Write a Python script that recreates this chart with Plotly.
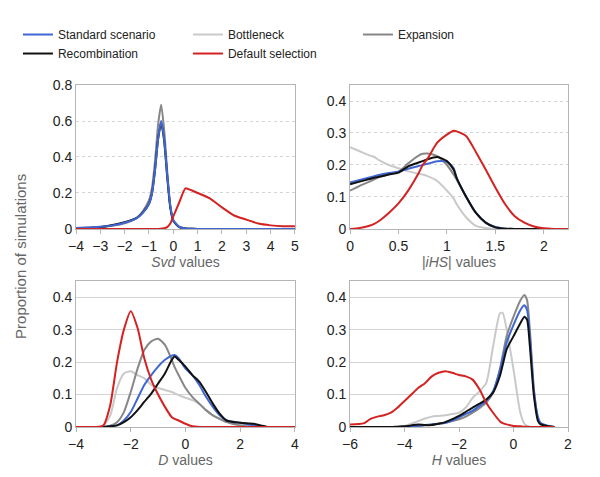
import plotly.graph_objects as go
from plotly.subplots import make_subplots

series_names = ["Standard scenario", "Bottleneck", "Expansion", "Recombination", "Default selection"]
series_colors = ["#3f66d2", "#c9c9c9", "#878787", "#111111", "#d42222"]

# Svd panel
svd_x = [-4, -3.5, -3, -2.5, -2, -1.5, -1.25, -1, -0.875, -0.75, -0.625, -0.5, -0.375, -0.25, -0.125, 0,
         0.25, 0.5, 0.75, 1, 1.5, 2, 2.5, 3, 3.5, 4, 4.5, 5]
svd_standard = [0.005, 0.008, 0.012, 0.02, 0.035, 0.06, 0.09, 0.14, 0.2, 0.33, 0.5, 0.6, 0.5, 0.3, 0.13, 0.05,
                0.012, 0.003, 0.001, 0, 0, 0, 0, 0, 0, 0, 0, 0]
svd_bottleneck = [0.005, 0.008, 0.012, 0.02, 0.035, 0.062, 0.095, 0.15, 0.21, 0.35, 0.52, 0.6, 0.49, 0.29, 0.12, 0.045,
                  0.01, 0.003, 0.001, 0, 0, 0, 0, 0, 0, 0, 0, 0]
svd_expansion = [0.004, 0.007, 0.01, 0.018, 0.032, 0.062, 0.1, 0.16, 0.23, 0.38, 0.58, 0.69, 0.55, 0.32, 0.13, 0.045,
                 0.01, 0.003, 0.001, 0, 0, 0, 0, 0, 0, 0, 0, 0]
svd_recomb = [0.004, 0.006, 0.01, 0.022, 0.038, 0.062, 0.092, 0.14, 0.2, 0.33, 0.5, 0.59, 0.49, 0.29, 0.12, 0.045,
              0.01, 0.003, 0.001, 0, 0, 0, 0, 0, 0, 0, 0, 0]
svd_default = [0, 0, 0, 0, 0, 0, 0, 0, 0, 0, 0, 0.002, 0.004, 0.01, 0.03, 0.07,
               0.15, 0.226, 0.215, 0.2, 0.17, 0.12, 0.075, 0.052, 0.03, 0.02, 0.015, 0.015]

# |iHS| panel
ihs_x = [0, 0.1, 0.2, 0.25, 0.3, 0.4, 0.5, 0.6, 0.7, 0.75, 0.8, 0.9, 1.0, 1.07, 1.1, 1.2, 1.3, 1.4, 1.5,
         1.6, 1.7, 1.8, 1.9, 2.0, 2.1, 2.25]
ihs_standard = [0.145, 0.153, 0.161, 0.165, 0.169, 0.175, 0.18, 0.188, 0.196, 0.2, 0.204, 0.212, 0.21, 0.19, 0.16,
                0.1, 0.05, 0.02, 0.006, 0.001, 0, 0, 0, 0, 0, 0]
ihs_bottleneck = [0.256, 0.243, 0.23, 0.225, 0.215, 0.2, 0.19, 0.18, 0.173, 0.17, 0.165, 0.15, 0.12, 0.095, 0.078,
                  0.036, 0.01, 0.003, 0, 0, 0, 0, 0, 0, 0, 0]
ihs_expansion = [0.12, 0.135, 0.148, 0.155, 0.162, 0.172, 0.178, 0.205, 0.228, 0.235, 0.236, 0.228, 0.2, 0.17,
                 0.155, 0.1, 0.05, 0.02, 0.005, 0.001, 0, 0, 0, 0, 0, 0]
ihs_recomb = [0.14, 0.148, 0.156, 0.16, 0.163, 0.17, 0.176, 0.196, 0.207, 0.212, 0.218, 0.225, 0.212, 0.185,
              0.16, 0.1, 0.05, 0.02, 0.005, 0.001, 0, 0, 0, 0, 0, 0]
ihs_default = [0, 0.003, 0.01, 0.016, 0.025, 0.05, 0.08, 0.12, 0.17, 0.2, 0.22, 0.27, 0.295, 0.307, 0.305, 0.29,
               0.24, 0.186, 0.13, 0.078, 0.04, 0.02, 0.008, 0.002, 0, 0]

# D panel
d_x = [-4, -3.5, -3.25, -3, -2.75, -2.5, -2.25, -2, -1.75, -1.5, -1.25, -1, -0.75, -0.5, -0.4, -0.25, 0,
       0.25, 0.5, 0.75, 1, 1.25, 1.5, 2, 2.5, 2.75, 3, 3.5, 4]
d_standard = [0, 0, 0, 0, 0.002, 0.005, 0.02, 0.046, 0.088, 0.13, 0.16, 0.186, 0.207, 0.22, 0.222, 0.212, 0.18,
              0.16, 0.13, 0.093, 0.062, 0.036, 0.02, 0.013, 0.005, 0.003, 0, 0, 0]
d_bottleneck = [0, 0, 0, 0.005, 0.035, 0.12, 0.165, 0.172, 0.16, 0.15, 0.13, 0.12, 0.114, 0.108, 0.104, 0.098,
                0.09, 0.083, 0.072, 0.052, 0.036, 0.026, 0.018, 0.01, 0.005, 0.003, 0, 0, 0]
d_expansion = [0, 0, 0, 0, 0.004, 0.015, 0.046, 0.108, 0.18, 0.238, 0.264, 0.272, 0.253, 0.207, 0.185, 0.16,
               0.12, 0.093, 0.072, 0.052, 0.036, 0.025, 0.015, 0.005, 0, 0, 0, 0, 0]
d_recomb = [0, 0, 0, 0, 0.002, 0.005, 0.015, 0.03, 0.052, 0.078, 0.103, 0.134, 0.165, 0.207, 0.217, 0.207, 0.186,
            0.16, 0.14, 0.108, 0.072, 0.041, 0.02, 0.013, 0.01, 0.005, 0, 0, 0]
d_default = [0, 0, 0, 0.005, 0.067, 0.2, 0.3, 0.357, 0.305, 0.21, 0.145, 0.1, 0.062, 0.03, 0.025, 0.02, 0.01,
             0.002, 0, 0, 0, 0, 0, 0, 0, 0, 0, 0, 0]

# H panel
h_x = [-6, -5.5, -5.25, -5, -4.75, -4.5, -4.25, -4, -3.75, -3.5, -3.25, -3, -2.75, -2.5, -2.25, -2, -1.75,
       -1.5, -1.25, -1, -0.75, -0.5, -0.4, -0.25, 0, 0.25, 0.4, 0.5, 0.6, 0.75, 0.9, 1.0, 1.25, 1.5]
h_standard = [0, 0, 0, 0, 0, 0, 0, 0.001, 0.002, 0.004, 0.006, 0.008, 0.01, 0.013, 0.02, 0.03, 0.04,
              0.05, 0.065, 0.08, 0.11, 0.175, 0.21, 0.26, 0.315, 0.36, 0.375, 0.36, 0.28, 0.11, 0.03, 0.012,
              0.004, 0]
h_bottleneck = [0, 0, 0, 0, 0, 0, 0.001, 0.003, 0.01, 0.018, 0.026, 0.032, 0.034, 0.036, 0.04, 0.044, 0.06,
                0.09, 0.11, 0.136, 0.248, 0.35, 0.352, 0.3, 0.177, 0.044, 0.01, 0.003, 0, 0, 0, 0, 0, 0]
h_expansion = [0, 0, 0, 0, 0, 0, 0, 0, 0.001, 0.003, 0.005, 0.008, 0.01, 0.013, 0.018, 0.024, 0.032,
               0.044, 0.058, 0.075, 0.106, 0.177, 0.22, 0.28, 0.34, 0.39, 0.407, 0.39, 0.3, 0.115, 0.024, 0.008,
               0.003, 0]
h_recomb = [0, 0, 0, 0, 0, 0, 0.001, 0.002, 0.005, 0.008, 0.006, 0.006, 0.01, 0.015, 0.024, 0.034, 0.047,
            0.06, 0.072, 0.085, 0.106, 0.157, 0.19, 0.24, 0.28, 0.32, 0.34, 0.33, 0.25, 0.095, 0.018, 0.008,
            0.003, 0]
h_default = [0.008, 0.011, 0.025, 0.032, 0.036, 0.044, 0.06, 0.08, 0.1, 0.12, 0.135, 0.156, 0.167, 0.172,
             0.167, 0.16, 0.156, 0.146, 0.116, 0.075, 0.044, 0.018, 0.012, 0.008, 0.003, 0.002, 0.001, 0.001,
             0, 0, 0, 0, 0, 0]

panels = [
    (svd_x, [svd_standard, svd_bottleneck, svd_expansion, svd_recomb, svd_default], [1, 2, 3, 0, 4]),
    (ihs_x, [ihs_standard, ihs_bottleneck, ihs_expansion, ihs_recomb, ihs_default], [1, 2, 0, 3, 4]),
    (d_x, [d_standard, d_bottleneck, d_expansion, d_recomb, d_default], [1, 2, 0, 3, 4]),
    (h_x, [h_standard, h_bottleneck, h_expansion, h_recomb, h_default], [1, 2, 0, 3, 4]),
]

fig = make_subplots(rows=2, cols=2)
positions = [(1, 1), (1, 2), (2, 1), (2, 2)]
for p, (xs, ys, order) in enumerate(panels):
    r, c = positions[p]
    for k in order:
        fig.add_trace(go.Scatter(
            x=xs, y=ys[k], mode="lines", name=series_names[k],
            line=dict(color=series_colors[k], width=2, shape="spline", smoothing=0.6),
            showlegend=(p == 0), legendrank=k + 1,
        ), row=r, col=c)

x_titles = ["<i>Svd</i> values", "|<i>iHS</i>| values", "<i>D</i> values", "<i>H</i> values"]
x_ranges = [[-4, 5], [0, 2.25], [-4, 4], [-6, 2]]
x_dticks = [1, 0.5, 2, 2]
y_ranges = [[0, 0.8], [0, 0.45], [0, 0.45], [0, 0.45]]
y_dticks = [0.2, 0.1, 0.1, 0.1]
x_domains = [[0, 0.445], [0.557, 1], [0, 0.445], [0.557, 1]]
y_domains = [[0.579, 1], [0.579, 1], [0, 0.427], [0, 0.427]]

tick_font = dict(family="Liberation Sans, Arial", size=14, color="#222222")
for i in range(4):
    sfx = "" if i == 0 else str(i + 1)
    fig.layout["xaxis" + sfx].update(
        range=x_ranges[i], dtick=x_dticks[i], tick0=x_ranges[i][0], domain=x_domains[i],
        showline=True, linecolor="#b5b5b5", mirror=True, showgrid=False, zeroline=False,
        ticks="outside", ticklen=4, tickcolor="#b5b5b5", tickfont=tick_font,
        title=dict(text=x_titles[i], font=dict(family="Liberation Sans, Arial", size=14, color="#666666"),
                   standoff=2),
    )
    fig.layout["yaxis" + sfx].update(
        range=y_ranges[i], dtick=y_dticks[i], domain=y_domains[i],
        showline=True, linecolor="#b5b5b5", mirror=True, zeroline=False,
        showgrid=True, gridcolor="#d4d4d4", griddash="dot" if i < 2 else "solid", gridwidth=1,
        ticks="", tickfont=tick_font,
    )

fig.add_annotation(
    text="Proportion of simulations", xref="paper", yref="paper", x=-0.114, y=0.5,
    xanchor="center", yanchor="middle", textangle=-90, showarrow=False,
    font=dict(family="Liberation Sans, Arial", size=15, color="#666666"),
)

fig.update_layout(
    width=600, height=477,
    margin=dict(l=68, r=40, t=77, b=58, autoexpand=False),
    plot_bgcolor="white", paper_bgcolor="white",
    legend=dict(
        orientation="h", x=-0.118, y=1.19, xanchor="left", yanchor="top",
        entrywidth=125, entrywidthmode="pixels", itemwidth=30, tracegroupgap=0,
        font=dict(family="Liberation Sans, Arial", size=12, color="#222222"),
    ),
)

fig.write_html("out.html")
